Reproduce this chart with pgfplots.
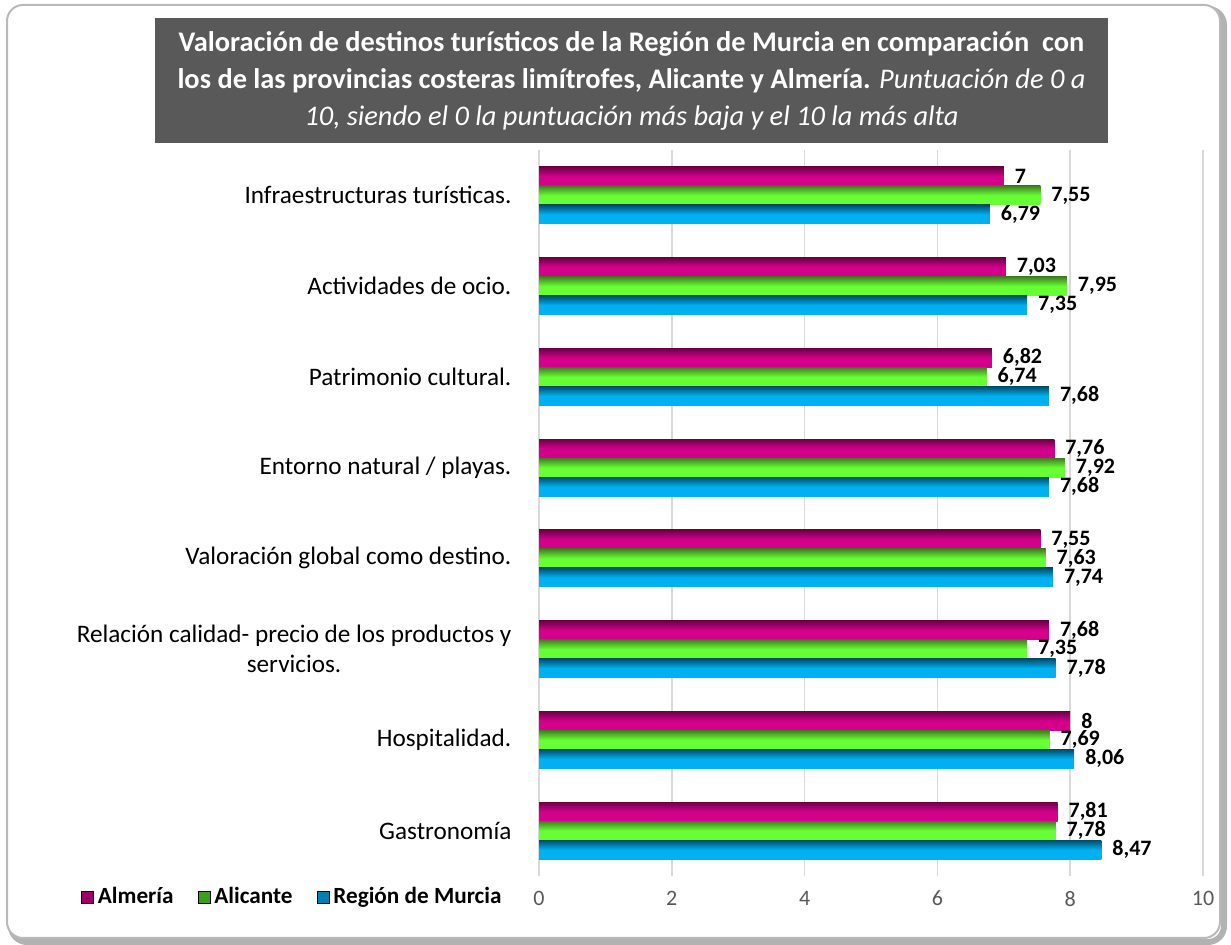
\documentclass[border=0pt]{standalone}
\usepackage{fontspec}
\setmainfont{Carlito}
\usepackage{pgfplots}
\pgfplotsset{compat=1.18}
\usepackage{pgfplotstable}

\definecolor{almTop}{HTML}{6E0046}
\definecolor{almBot}{HTML}{D4008C}
\definecolor{aliTop}{HTML}{3F7F1F}
\definecolor{aliBot}{HTML}{66FF33}
\definecolor{murTop}{HTML}{004D6B}
\definecolor{murBot}{HTML}{00B0F0}
\definecolor{almL}{HTML}{9B0066}
\definecolor{aliL}{HTML}{3AA01C}
\definecolor{murL}{HTML}{0080B0}
\definecolor{titlebg}{HTML}{595959}
\definecolor{tickgray}{HTML}{595959}

% y = category (0 = bottom), alm = Almeria, ali = Alicante, mur = Region de Murcia
\pgfplotstableread{
y alm  ali  mur
7 7.00 7.55 6.79
6 7.03 7.95 7.35
5 6.82 6.74 7.68
4 7.76 7.92 7.68
3 7.55 7.63 7.74
2 7.68 7.35 7.78
1 8.00 7.69 8.06
0 7.81 7.78 8.47
}\datatable

\begin{document}
\begin{tikzpicture}[x=0.5pt,y=0.5pt]
\useasboundingbox (0,0) rectangle (1231,945);
% frame
\draw[line width=3pt, black!30, rounded corners=8pt] (11,3) rectangle (1224,936);
\draw[line width=1pt, gray!55, fill=white, rounded corners=8pt] (7,7) rectangle (1220,940);
% title
\fill[titlebg] (155,927) rectangle (1108,802);
\node[text=white, align=center, font=\fontsize{14.2}{18.5}\selectfont] at (631.5,864.5)
  {\textbf{Valoración de destinos turísticos de la Región de Murcia en comparación\ \ con}\\
   \textbf{los de las provincias costeras limítrofes, Alicante y Almería.} \textit{Puntuación de 0 a}\\
   \textit{10, siendo el 0 la puntuación más baja y el 10 la más alta}};

\begin{axis}[
    at={(269.5pt,34.5pt)}, anchor=south west,
    scale only axis,
    width=332pt, height=363pt,
    xbar, bar width=9.5pt,
    xmin=0, xmax=10,
    ymin=-0.5, ymax=7.5,
    xtick={0,2,...,10},
    ytick={0,...,7},
    yticklabels={Gastronomía, Hospitalidad., {Relación calidad- precio de los productos y\\servicios.},
                 Valoración global como destino., Entorno natural / playas., Patrimonio cultural.,
                 Actividades de ocio., Infraestructuras turísticas.},
    yticklabel style={align=center, font=\fontsize{12.6}{15}\selectfont, text=black, xshift=-6pt},
    xticklabel style={font=\fontsize{11}{12}\selectfont, text=tickgray, yshift=-4pt},
    /pgf/number format/assume math mode=true,
    axis line style={draw=none},
    tick style={draw=none},
    xmajorgrids,
    major grid style={color=black!15, line width=0.8pt},
    nodes near coords,
    nodes near coords style={font=\bfseries\fontsize{11}{12}\selectfont, text=black, xshift=2pt,
        /pgf/number format/.cd, use comma, fixed, precision=2},
    legend style={draw=none, fill=none, at={(-0.37,-0.029)}, anchor=center,
        legend columns=3, font=\bfseries\fontsize{11.6}{13}\selectfont,
        /tikz/every even column/.append style={column sep=10pt}},
    legend image code/.code={\fill[#1] (0pt,-3pt) rectangle (6pt,3pt);},
]
% one plot per bar so that every bar gets its own shading
\pgfplotsinvokeforeach{0,...,7}{
\addplot[draw=none, top color=almTop, bottom color=almBot, middle color=almBot,
    bar shift=9.5pt, forget plot, restrict y to domain=#1:#1]
    table[x=alm, y=y] {\datatable};
\addplot[draw=none, top color=aliTop, bottom color=aliBot, middle color=aliBot,
    bar shift=0pt, forget plot, restrict y to domain=#1:#1]
    table[x=ali, y=y] {\datatable};
\addplot[draw=none, top color=murTop, bottom color=murBot, middle color=murBot,
    bar shift=-9.5pt, forget plot, restrict y to domain=#1:#1]
    table[x=mur, y=y] {\datatable};
}
\addlegendimage{fill=almL}
\addlegendentry{Almería}
\addlegendimage{fill=aliL}
\addlegendentry{Alicante}
\addlegendimage{fill=murL}
\addlegendentry{Región de Murcia}
\end{axis}
\end{tikzpicture}
\end{document}
